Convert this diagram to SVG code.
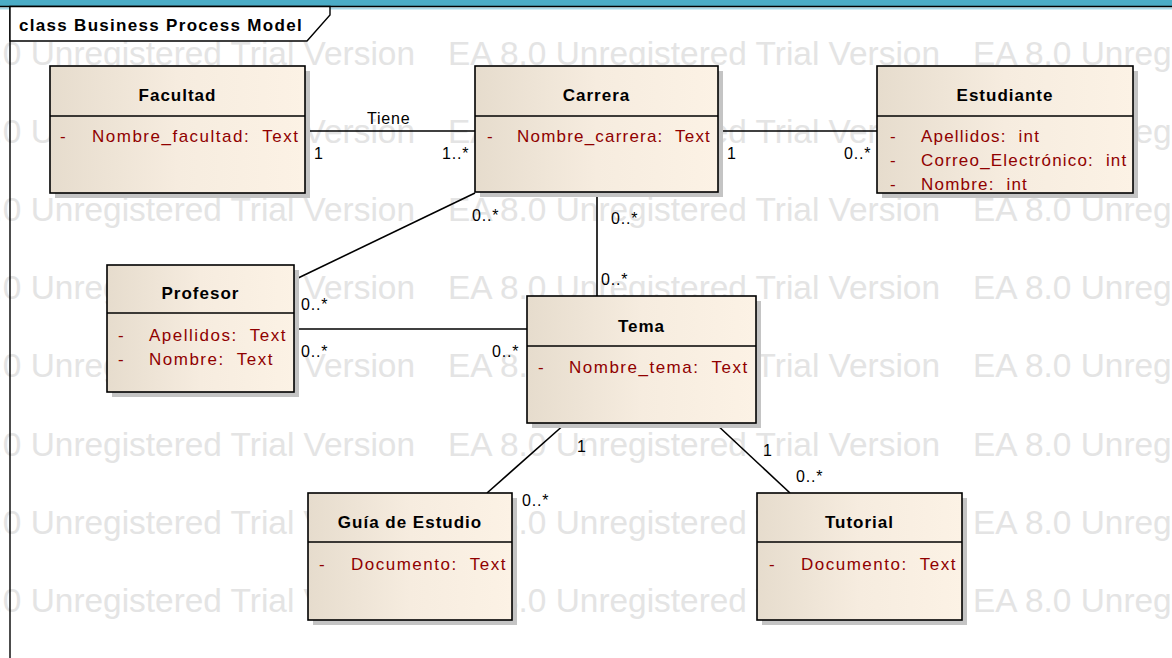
<svg xmlns="http://www.w3.org/2000/svg" xmlns:xlink="http://www.w3.org/1999/xlink" width="1172" height="658" viewBox="0 0 1172 658">
  <style>
    .wm { font-family: "Liberation Sans", Arial, sans-serif; font-size: 33px; fill: #e4e4e4; }
    .box { stroke: #000; stroke-width: 1.6; fill: url(#beige); }
    .shadow { fill: #c4c4c4; }
    .sep { stroke: #000; stroke-width: 1.6; }
    .title { font-family: "Liberation Sans", Arial, sans-serif; font-size: 17px; font-weight: bold; fill: #000; text-anchor: middle; letter-spacing: 1px; }
    .attr { font-family: "Liberation Sans", Arial, sans-serif; font-size: 17px; fill: #900000; letter-spacing: 1.5px; white-space: pre; }
    .attr.tight { letter-spacing: 1.2px; }
    .conn { stroke: #000; stroke-width: 1.6; fill: none; }
    .lbl { font-family: "Liberation Sans", Arial, sans-serif; font-size: 16px; fill: #000; letter-spacing: 0.8px; }
    .frame-title { font-family: "Liberation Sans", Arial, sans-serif; font-size: 17px; font-weight: bold; fill: #000; letter-spacing: 1.3px; }
  </style>
  <defs>
    <linearGradient id="beige" x1="0" y1="0" x2="1" y2="0">
      <stop offset="0" stop-color="#e6dccd"/>
      <stop offset="0.5" stop-color="#f6ecdf"/>
      <stop offset="1" stop-color="#fcf2e5"/>
    </linearGradient>
    <text id="wm" class="wm" textLength="492" lengthAdjust="spacingAndGlyphs">EA 8.0 Unregistered Trial Version</text>
  </defs>

  <rect x="0" y="0" width="1172" height="658" fill="#fff"/>

  <!-- watermark rows -->
  <g id="watermark">
    <use xlink:href="#wm" x="-77" y="65"/><use xlink:href="#wm" x="448" y="65"/><use xlink:href="#wm" x="973" y="65"/>
    <use xlink:href="#wm" x="-77" y="143"/><use xlink:href="#wm" x="448" y="143"/><use xlink:href="#wm" x="973" y="143"/>
    <use xlink:href="#wm" x="-77" y="221"/><use xlink:href="#wm" x="448" y="221"/><use xlink:href="#wm" x="973" y="221"/>
    <use xlink:href="#wm" x="-77" y="299"/><use xlink:href="#wm" x="448" y="299"/><use xlink:href="#wm" x="973" y="299"/>
    <use xlink:href="#wm" x="-77" y="377"/><use xlink:href="#wm" x="448" y="377"/><use xlink:href="#wm" x="973" y="377"/>
    <use xlink:href="#wm" x="-77" y="456"/><use xlink:href="#wm" x="448" y="456"/><use xlink:href="#wm" x="973" y="456"/>
    <use xlink:href="#wm" x="-77" y="534"/><use xlink:href="#wm" x="448" y="534"/><use xlink:href="#wm" x="973" y="534"/>
    <use xlink:href="#wm" x="-77" y="612"/><use xlink:href="#wm" x="448" y="612"/><use xlink:href="#wm" x="973" y="612"/>
  </g>

  <!-- diagram frame -->
  <g id="frame">
    <rect x="0" y="0" width="1172" height="6" fill="#4bacc6"/>
    <rect x="0" y="7.5" width="1172" height="2" fill="#a9d9e8"/>
    <line x1="0" y1="6.5" x2="1172" y2="6.5" stroke="#000" stroke-width="1.4"/>
    <line x1="10" y1="6.5" x2="10" y2="658" stroke="#000" stroke-width="1.4"/>
    <path d="M10,6.5 H330 V15 L307,41 H10 Z" fill="#fff" stroke="#000" stroke-width="1.4"/>
    <text class="frame-title" x="19" y="31">class Business Process Model</text>
  </g>

  <!-- associations -->
  <g id="connectors">
    <line class="conn" x1="305" y1="131" x2="475" y2="131"/>
    <line class="conn" x1="718" y1="131" x2="877" y2="131"/>
    <line class="conn" x1="475" y1="193" x2="294" y2="280"/>
    <line class="conn" x1="597" y1="193" x2="597" y2="296"/>
    <line class="conn" x1="294" y1="329" x2="527" y2="329"/>
    <line class="conn" x1="566" y1="423" x2="487" y2="493"/>
    <line class="conn" x1="715" y1="423" x2="790" y2="493"/>

    <text class="lbl" x="367" y="124">Tiene</text>
    <text class="lbl" x="314" y="159">1</text>
    <text class="lbl" x="442" y="159">1..*</text>
    <text class="lbl" x="727" y="159">1</text>
    <text class="lbl" x="844" y="159">0..*</text>
    <text class="lbl" x="472" y="221">0..*</text>
    <text class="lbl" x="301" y="310">0..*</text>
    <text class="lbl" x="611" y="224">0..*</text>
    <text class="lbl" x="601" y="285">0..*</text>
    <text class="lbl" x="301" y="357">0..*</text>
    <text class="lbl" x="492" y="357">0..*</text>
    <text class="lbl" x="577" y="452">1</text>
    <text class="lbl" x="522" y="506">0..*</text>
    <text class="lbl" x="763" y="456">1</text>
    <text class="lbl" x="796" y="482">0..*</text>
  </g>

  <g id="facultad">
    <rect class="shadow" x="55" y="71" width="255" height="127"/>
    <rect class="box" x="50" y="66" width="255" height="127"/>
    <line class="sep" x1="50" y1="116" x2="305" y2="116"/>
    <text class="title" x="177.5" y="101">Facultad</text>
    <text class="attr" x="60" y="142">-</text>
    <text class="attr" x="92" y="142" xml:space="preserve">Nombre_facultad:  Text</text>
  </g>

  <g id="carrera">
    <rect class="shadow" x="480" y="71" width="243" height="126"/>
    <rect class="box" x="475" y="66" width="243" height="126"/>
    <line class="sep" x1="475" y1="116" x2="718" y2="116"/>
    <text class="title" x="596.5" y="101">Carrera</text>
    <text class="attr" x="487" y="142">-</text>
    <text class="attr tight" x="517" y="142" xml:space="preserve">Nombre_carrera:  Text</text>
  </g>

  <g id="estudiante">
    <rect class="shadow" x="882" y="71" width="256" height="127"/>
    <rect class="box" x="877" y="66" width="256" height="127"/>
    <line class="sep" x1="877" y1="116" x2="1133" y2="116"/>
    <text class="title" x="1005" y="101">Estudiante</text>
    <text class="attr" x="890" y="142">-</text>
    <text class="attr tight" x="921" y="142" xml:space="preserve">Apellidos:  int</text>
    <text class="attr" x="890" y="166">-</text>
    <text class="attr tight" x="921" y="166" xml:space="preserve">Correo_Electrónico:  int</text>
    <text class="attr" x="890" y="190">-</text>
    <text class="attr tight" x="921" y="190" xml:space="preserve">Nombre:  int</text>
  </g>

  <g id="profesor">
    <rect class="shadow" x="112" y="270" width="187" height="127"/>
    <rect class="box" x="107" y="265" width="187" height="127"/>
    <line class="sep" x1="107" y1="313" x2="294" y2="313"/>
    <text class="title" x="200.5" y="299">Profesor</text>
    <text class="attr" x="118" y="341">-</text>
    <text class="attr" x="149" y="341" xml:space="preserve">Apellidos:  Text</text>
    <text class="attr" x="118" y="365">-</text>
    <text class="attr" x="149" y="365" xml:space="preserve">Nombre:  Text</text>
  </g>

  <g id="tema">
    <rect class="shadow" x="532" y="301" width="229" height="127"/>
    <rect class="box" x="527" y="296" width="229" height="127"/>
    <line class="sep" x1="527" y1="346" x2="756" y2="346"/>
    <text class="title" x="641.5" y="332">Tema</text>
    <text class="attr" x="538" y="373">-</text>
    <text class="attr" x="569" y="373" xml:space="preserve">Nombre_tema:  Text</text>
  </g>

  <g id="guia-de-estudio">
    <rect class="shadow" x="313" y="498" width="204" height="127"/>
    <rect class="box" x="308" y="493" width="204" height="127"/>
    <line class="sep" x1="308" y1="542" x2="512" y2="542"/>
    <text class="title" x="410" y="528">Guía de Estudio</text>
    <text class="attr" x="319" y="570">-</text>
    <text class="attr" x="351" y="570" xml:space="preserve">Documento:  Text</text>
  </g>

  <g id="tutorial">
    <rect class="shadow" x="762" y="498" width="205" height="127"/>
    <rect class="box" x="757" y="493" width="205" height="127"/>
    <line class="sep" x1="757" y1="542" x2="962" y2="542"/>
    <text class="title" x="859.5" y="528">Tutorial</text>
    <text class="attr" x="769" y="570">-</text>
    <text class="attr" x="801" y="570" xml:space="preserve">Documento:  Text</text>
  </g>
</svg>
